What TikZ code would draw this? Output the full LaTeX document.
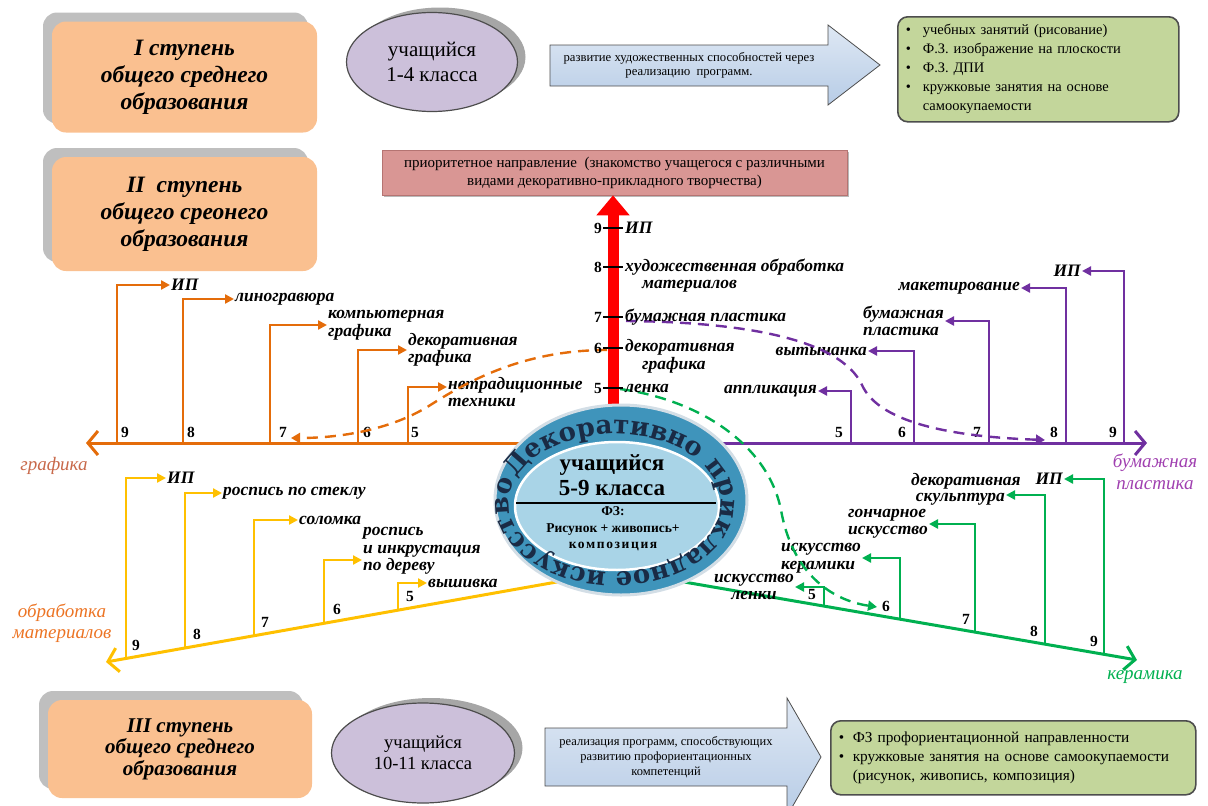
\documentclass[tikz,border=0pt]{standalone}
\usepackage{fontspec}
\setmainfont{Liberation Serif}
\newfontfamily\ringfont{DejaVu Serif}
\usetikzlibrary{arrows.meta,shapes.geometric,shadows,decorations.text}
\definecolor{stageorange}{HTML}{FAC090}
\definecolor{stageshadow}{HTML}{BFBFBF}
\definecolor{pupil}{HTML}{CCC0DA}
\definecolor{pupilshadow}{HTML}{A6A6A6}
\definecolor{arrowblueA}{HTML}{DFE8F4}
\definecolor{arrowblueB}{HTML}{B7CCE6}
\definecolor{listgreen}{HTML}{C3D69B}
\definecolor{priofill}{HTML}{D99694}
\definecolor{prioedge}{HTML}{B57472}
\definecolor{cOrange}{HTML}{E46C0A}
\definecolor{cOrangeTxt}{HTML}{C8694A}
\definecolor{cOrangeTxtB}{HTML}{EC7424}
\definecolor{cPurple}{HTML}{7030A0}
\definecolor{cPurpleTxt}{HTML}{A040B0}
\definecolor{cYellow}{HTML}{FFC000}
\definecolor{cGreen}{HTML}{00B050}
\definecolor{ringblue}{HTML}{3F94BB}
\definecolor{ringedge}{HTML}{D3DEE6}
\definecolor{innerblue}{HTML}{A9D4E7}
\definecolor{ringtext}{HTML}{1A2B45}
\definecolor{darkline}{HTML}{4D4D4D}
\tikzset{
  stagebox/.style={rounded corners=14pt, fill=stageorange, align=center, inner sep=0pt,
     general shadow={fill=stageshadow, shadow xshift=-9pt, shadow yshift=9pt}},
  pupilell/.style={ellipse, draw=darkline, line width=1.2pt, fill=pupil, inner sep=0pt, align=center,
     general shadow={fill=pupilshadow, shadow xshift=8pt, shadow yshift=5pt}},
  listbox/.style={rounded corners=10pt, fill=listgreen, draw=darkline, line width=1.6pt, align=left,
     inner xsep=8pt, inner ysep=0pt, anchor=north west},
  arrowtxt/.style={align=center, inner sep=0pt},
  blabel/.style={font=\fontsize{17.5}{17.5}\selectfont\bfseries\itshape, inner sep=1pt, align=left},
  num/.style={font=\fontsize{15.5}{15.5}\selectfont\bfseries, inner sep=0pt},
  catlabel/.style={font=\fontsize{19}{21.5}\selectfont\itshape, align=center, inner sep=0pt},
  axisline/.style={line width=3pt, -{Straight Barb[length=10pt,width=24pt]}},
  branch/.style={line width=2.6pt, -{Triangle[length=9pt,width=9pt]}},
  dashedarrow/.style={line width=2.4pt, dash pattern=on 11pt off 7pt, -{Triangle[length=9pt,width=10pt]}},
  tickline/.style={line width=1.3pt, black},
}
\begin{document}
\begin{tikzpicture}[x=1pt,y=-1pt]
\useasboundingbox (0,0) rectangle (1208,806);
% ---------- top row
\node[stagebox, minimum width=265pt, minimum height=111pt, font=\fontsize{23.5}{27}\selectfont\bfseries\itshape] (st1) at (184.5,77) {I ступень\\общего среднего\\образования};
\node[pupilell, minimum width=171pt, minimum height=99pt, font=\fontsize{21}{25}\selectfont] (pu1) at (432,62) {учащийся\\1-4 класса};
\shade[top color=arrowblueA, bottom color=arrowblueB, draw=darkline, line width=0.8pt]
 (550,45) -- (828,45) -- (828,25) -- (880,65) -- (828,105) -- (828,86) -- (550,86) -- cycle;
\node[arrowtxt, font=\fontsize{12.7}{14}\selectfont] (ar1) at (689,65.5) {развитие художественных способностей через\\реализацию\ \ программ.};
\node[listbox, text width=265pt, minimum height=105pt, font=\fontsize{14.5}{19}\selectfont] (li1) at (897,16) {\makebox[17pt][l]{•}учебных занятий (рисование)\\
\makebox[17pt][l]{•}Ф.З. изображение на плоскости\\
\makebox[17pt][l]{•}Ф.З. ДПИ\\
\makebox[17pt][l]{•}кружковые занятия на основе\\
\hspace*{17pt}самоокупаемости};
% ---------- second row
\node[stagebox, minimum width=265pt, minimum height=114pt, font=\fontsize{23.5}{27}\selectfont\bfseries\itshape] (st2) at (184.5,214) {II\ \ ступень\\общего среонего\\образования};
\node[fill=priofill, draw=prioedge, line width=0.6pt, minimum width=465pt, minimum height=45pt, align=center, inner sep=0pt, font=\fontsize{15}{18}\selectfont, general shadow={fill=gray!55, shadow xshift=2pt, shadow yshift=-2pt}] (pr) at (614.5,172.5) {приоритетное направление\ \ (знакомство учащегося с различными\\видами декоративно-прикладного творчества)};
% ---------- orange branch (графика)
\coordinate (oS) at (560,443);
\coordinate (oE) at (86,443);
\draw[axisline, cOrange] (oS) -- (oE);
\node[blabel, anchor=west] (oL9) at (170,285) {ИП};
\node[blabel, anchor=west] (oL8) at (234,299) {линогравюра};
\node[blabel, anchor=west] (oL7) at (327,325) {компьютерная\\графика};
\node[blabel, anchor=west] (oL6) at (407,350) {декоративная\\графика};
\node[blabel, anchor=west] (oL5) at (447,392) {нетрадиционные\\техники};
\coordinate (oB9) at (117,443);
\coordinate (oB8) at (183,443);
\coordinate (oB7) at (270,443);
\coordinate (oB6) at (358,443);
\coordinate (oB5) at (408,443);
\draw[branch, cOrange] (oB9) |- (oL9.west);
\draw[branch, cOrange] (oB8) |- (oL8.west);
\draw[branch, cOrange] (oB7) |- (oL7.west);
\draw[branch, cOrange] (oB6) |- (oL6.west);
\draw[branch, cOrange] (oB5) |- ([yshift=5pt]oL5.west);
\node[num] (oN9) at (125,432) {9};
\node[num] (oN8) at (191,432) {8};
\node[num] (oN7) at (283,432) {7};
\node[num] (oN6) at (367,432) {6};
\node[num] (oN5) at (415,432) {5};
\node[catlabel, text=cOrangeTxt] (cg) at (54,466) {графика};
% ---------- purple branch
\coordinate (pS) at (680,443);
\coordinate (pE) at (1147,443);
\draw[axisline, cPurple] (pS) -- (pE);
\node[blabel, anchor=east] (pL5) at (818,391) {аппликация};
\node[blabel, anchor=east] (pL6) at (868,351) {вытынанка};
\node[blabel, anchor=east] (pL7) at (945,321) {бумажная\\пластика};
\node[blabel, anchor=east] (pL8) at (1021,288) {макетирование};
\node[blabel, anchor=east] (pL9) at (1082,271) {ИП};
\coordinate (pB5) at (851,443);
\coordinate (pB6) at (914,443);
\coordinate (pB7) at (989,443);
\coordinate (pB8) at (1066,443);
\coordinate (pB9) at (1124,443);
\draw[branch, cPurple] (pB5) |- (pL5.east);
\draw[branch, cPurple] (pB6) |- (pL6.east);
\draw[branch, cPurple] (pB7) |- (pL7.east);
\draw[branch, cPurple] (pB8) |- (pL8.east);
\draw[branch, cPurple] (pB9) |- (pL9.east);
\node[num] (pN5) at (839,432) {5};
\node[num] (pN6) at (902,432) {6};
\node[num] (pN7) at (977,432) {7};
\node[num] (pN8) at (1054,432) {8};
\node[num] (pN9) at (1113,432) {9};
\node[catlabel, text=cPurpleTxt] (cb) at (1155,472) {бумажная\\пластика};
% ---------- yellow branch
\coordinate (yS) at (560,581.4);
\coordinate (yE) at (106,662);
\draw[axisline, cYellow] (yS) -- (yE);
\node[blabel, anchor=west] (yL9) at (166,478) {ИП};
\node[blabel, anchor=west] (yL8) at (222,493) {роспись по стеклу};
\node[blabel, anchor=west] (yL7) at (298,520) {соломка};
\node[blabel, anchor=west] (yL6) at (362,551) {роспись\\и инкрустация\\по дереву};
\node[blabel, anchor=west] (yL5) at (427,583) {вышивка};
\coordinate (yB9) at (126,658.7);
\coordinate (yB8) at (185,648.2);
\coordinate (yB7) at (254,635.9);
\coordinate (yB6) at (324,623.4);
\coordinate (yB5) at (398,610.3);
\draw[branch, cYellow] (yB9) |- (yL9.west);
\draw[branch, cYellow] (yB8) |- (yL8.west);
\draw[branch, cYellow] (yB7) |- (yL7.west);
\draw[branch, cYellow] (yB6) |- ([yshift=-9pt]yL6.west);
\draw[branch, cYellow] (yB5) |- (yL5.west);
\node[num] (yN9) at (136,645) {9};
\node[num] (yN8) at (197,634) {8};
\node[num] (yN7) at (265,622) {7};
\node[num] (yN6) at (337,609) {6};
\node[num] (yN5) at (410,596) {5};
\node[catlabel, text=cOrangeTxtB] (cm) at (62,623) {обработка\\материалов};
% ---------- green branch
\coordinate (gS) at (680,581.3);
\coordinate (gE) at (1137,660);
\draw[axisline, cGreen] (gS) -- (gE);
\node[blabel, anchor=east, align=center] (gL5) at (795,587) {искусство\\ленки};
\node[blabel, anchor=east] (gL6) at (862,558) {искусство\\керамики};
\node[blabel, anchor=east] (gL7) at (929,524) {гончарное\\искусство};
\node[blabel, anchor=west] (gL8a) at (910,481) {декоративная};
\node[blabel, anchor=east] (gL8) at (1006,499) {скульптура};
\node[blabel, anchor=east] (gL9) at (1064,479) {ИП};
\coordinate (gB5) at (824,606.1);
\coordinate (gB6) at (900,619.2);
\coordinate (gB7) at (975,632.1);
\coordinate (gB8) at (1045,644.2);
\coordinate (gB9) at (1104,654.3);
\draw[branch, cGreen] (gB5) |- (gL5.east);
\draw[branch, cGreen] (gB6) |- (gL6.east);
\draw[branch, cGreen] (gB7) |- (gL7.east);
\draw[branch, cGreen] (gB8) |- ([yshift=4pt]gL8.east);
\draw[branch, cGreen] (gB9) |- (gL9.east);
\node[num] (gN5) at (812,594) {5};
\node[num] (gN6) at (886,606) {6};
\node[num] (gN7) at (966,619) {7};
\node[num] (gN8) at (1034,631) {8};
\node[num] (gN9) at (1094,641) {9};
\node[catlabel, text=cGreen] (ck) at (1145,677) {керамика};
% ---------- dashed cross links
\coordinate (dO0) at (607,350);
\coordinate (dO1) at (432,404);
\coordinate (dO2) at (291,438);
\draw[dashedarrow, cOrange] (dO0) .. controls (525,350) and (470,380) .. (dO1) .. controls (395,428) and (345,438) .. (dO2);
\coordinate (dP0) at (626,321);
\coordinate (dP1) at (862,385);
\coordinate (dP2) at (1045,440);
\draw[dashedarrow, cPurple] (dP0) .. controls (740,322) and (840,338) .. (dP1) .. controls (880,425) and (960,437) .. (dP2);
\coordinate (dG0) at (620,389);
\coordinate (dG1) at (781,510);
\coordinate (dG2) at (877,607);
\draw[dashedarrow, cGreen] (dG0) .. controls (700,400) and (768,445) .. (dG1) .. controls (792,572) and (830,600) .. (dG2);
% ---------- red priority arrow
\coordinate (rS) at (613,420);
\draw[line width=11pt, red, -{Triangle[length=20pt,width=32pt]}] (rS) -- (pr.south -| rS);
\foreach \yy in {228,267,317,348,388} \draw[tickline] (603,\yy) -- (623,\yy);
\node[num, anchor=east] (rN9) at (602,228) {9};
\node[num, anchor=east] (rN8) at (602,267) {8};
\node[num, anchor=east] (rN7) at (602,317) {7};
\node[num, anchor=east] (rN6) at (602,348) {6};
\node[num, anchor=east] (rN5) at (602,388) {5};
\node[blabel, anchor=west] (rL9) at (624,228) {ИП};
\node[blabel, anchor=west] (rL8) at (624,275.5) {художественная обработка\\\hspace*{17pt}материалов};
\node[blabel, anchor=west] (rL7) at (624,317) {бумажная пластика};
\node[blabel, anchor=west] (rL6) at (624,356.5) {декоративная\\\hspace*{17pt}графика};
\node[blabel, anchor=west] (rL5) at (624,388) {ленка};
% ---------- central emblem
\node[ellipse, minimum width=252pt, minimum height=190pt, fill=ringblue, draw=ringedge, line width=3pt, inner sep=0pt] (ring) at (621,500) {};
\node[ellipse, minimum width=204pt, minimum height=128pt, fill=innerblue, draw=white, line width=2.5pt, inner sep=0pt] (inner) at (617,506) {};
\begin{scope}[transform canvas={shift={(615,503)}}]
\path[decorate, decoration={text along path, text color=ringtext,
   text={|\ringfont\bfseries\fontsize{26}{26}\selectfont|Декоративно прикладное искусство},
   text align=fit to path}]
   plot[domain=201:559, samples=145, variable=\t] ({106*cos(\t)}, {69*sin(\t)});
\end{scope}
\draw[line width=1.8pt, black] (516,503) -- (716,503);
\node[font=\fontsize{23}{25}\selectfont\bfseries, align=center, inner sep=0pt] (c59) at (612,475) {учащийся\\5-9 класса};
\node[font=\fontsize{13.5}{16.5}\selectfont\bfseries, align=center, inner sep=0pt] (cfz) at (613,529) {ФЗ:\\Рисунок + живопись+\\{\addfontfeature{LetterSpace=12}композиция}};
% ---------- bottom row
\node[stagebox, minimum width=264pt, minimum height=98pt, font=\fontsize{21}{21.5}\selectfont\bfseries\itshape] (st3) at (180,749) {III ступень\\общего среднего\\образования};
\node[pupilell, minimum width=183pt, minimum height=100pt, font=\fontsize{18.5}{21}\selectfont] (pu3) at (423,753) {учащийся\\10-11 класса};
\shade[top color=arrowblueA, bottom color=arrowblueB, draw=darkline, line width=0.8pt]
 (545,728) -- (787,728) -- (787,698) -- (821,757) -- (787,816) -- (787,786) -- (545,786) -- cycle;
\node[arrowtxt, font=\fontsize{12.5}{15}\selectfont] (ar3) at (666,757) {реализация программ, способствующих\\развитию профориентационных\\компетенций};
\node[listbox, text width=349pt, minimum height=74pt, font=\fontsize{15.3}{19}\selectfont] (li3) at (830,720) {\makebox[14pt][l]{•}ФЗ профориентационной направленности\\
\makebox[14pt][l]{•}кружковые занятия на основе самоокупаемости\\
\hspace*{14pt}(рисунок, живопись, композиция)};
\end{tikzpicture}
\end{document}
